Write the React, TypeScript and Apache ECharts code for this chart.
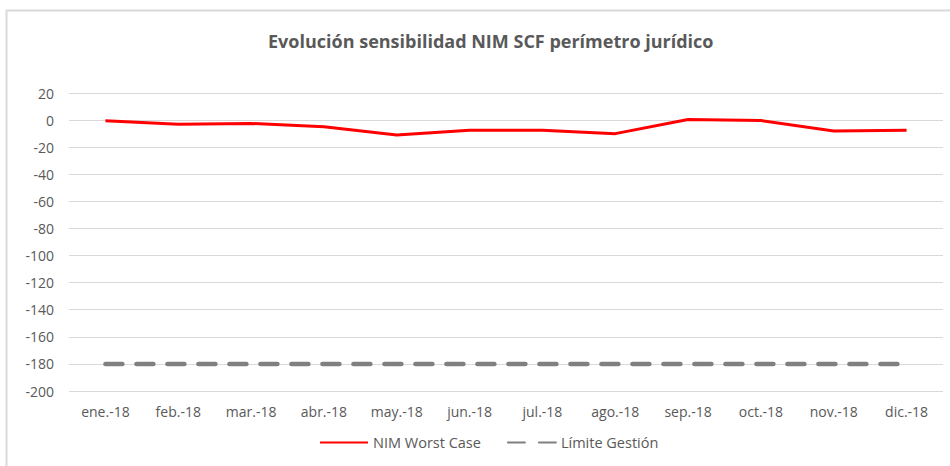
import React, { useEffect, useRef } from "react";
import * as echarts from "echarts";

const titleText = "Evolución sensibilidad NIM SCF perímetro jurídico";
const months = ["ene.-18", "feb.-18", "mar.-18", "abr.-18", "may.-18", "jun.-18", "jul.-18", "ago.-18", "sep.-18", "oct.-18", "nov.-18", "dic.-18"];
const nimWorstCase = [-0.5, -3, -2.5, -5, -11, -7.5, -7.5, -10, 0.5, -0.3, -8, -7.5];
const limiteGestion = [-180, -180, -180, -180, -180, -180, -180, -180, -180, -180, -180, -180];
const seriesNames = ["NIM Worst Case", "Límite Gestión"];

const FONT = "'Open Sans', 'Noto Sans', sans-serif";
const TXT = "#595959";

export default function App() {
  const ref = useRef<HTMLDivElement>(null);
  useEffect(() => {
    if (!ref.current) return;
    const chart = echarts.init(ref.current, undefined, { renderer: "svg" });
    chart.setOption({
      animation: false,
      backgroundColor: "#ffffff",
      textStyle: { fontFamily: FONT },
      title: {
        text: titleText,
        left: 263,
        top: 27,
        textStyle: { fontFamily: FONT, fontSize: 18, fontWeight: "bold", color: TXT },
      },
      graphic: [
        { type: "line", shape: { x1: 6, y1: 10.5, x2: 950, y2: 10.5 }, style: { stroke: "#d9d9d9", lineWidth: 2 } },
        { type: "line", shape: { x1: 6.5, y1: 10, x2: 6.5, y2: 466 }, style: { stroke: "#d9d9d9", lineWidth: 2 } },
      ],
      legend: {
        bottom: 11,
        left: 314,
        itemWidth: 48,
        itemHeight: 14,
        itemGap: 26,
        itemStyle: { opacity: 0 },
        textStyle: { fontFamily: FONT, fontSize: 14.5, color: TXT },
        data: seriesNames,
      },
      grid: { left: 69, right: 7, top: 93, bottom: 75 },
      xAxis: {
        type: "category",
        data: months,
        boundaryGap: true,
        axisLine: { show: false },
        axisTick: { show: false },
        axisLabel: { color: TXT, fontSize: 14, margin: 13, fontFamily: FONT },
      },
      yAxis: {
        type: "value",
        min: -200,
        max: 20,
        interval: 20,
        axisLine: { show: false },
        axisTick: { show: false },
        axisLabel: { color: TXT, fontSize: 14, margin: 15, fontFamily: FONT },
        splitLine: { lineStyle: { color: "#d9d9d9", width: 1 } },
      },
      series: [
        {
          name: seriesNames[0],
          type: "line",
          data: nimWorstCase,
          symbol: "none",
          lineStyle: { color: "#ff0000", width: 3 },
          itemStyle: { color: "#ff0000" },
        },
        {
          name: seriesNames[1],
          type: "line",
          data: limiteGestion,
          symbol: "none",
          lineStyle: { color: "#808080", width: 4.5, type: [17, 14], cap: "round" },
          itemStyle: { color: "#808080" },
        },
      ],
    });
    return () => chart.dispose();
  }, []);
  return <div ref={ref} style={{ position: "fixed", left: 0, top: 0, width: 950, height: 466 }} />;
}
